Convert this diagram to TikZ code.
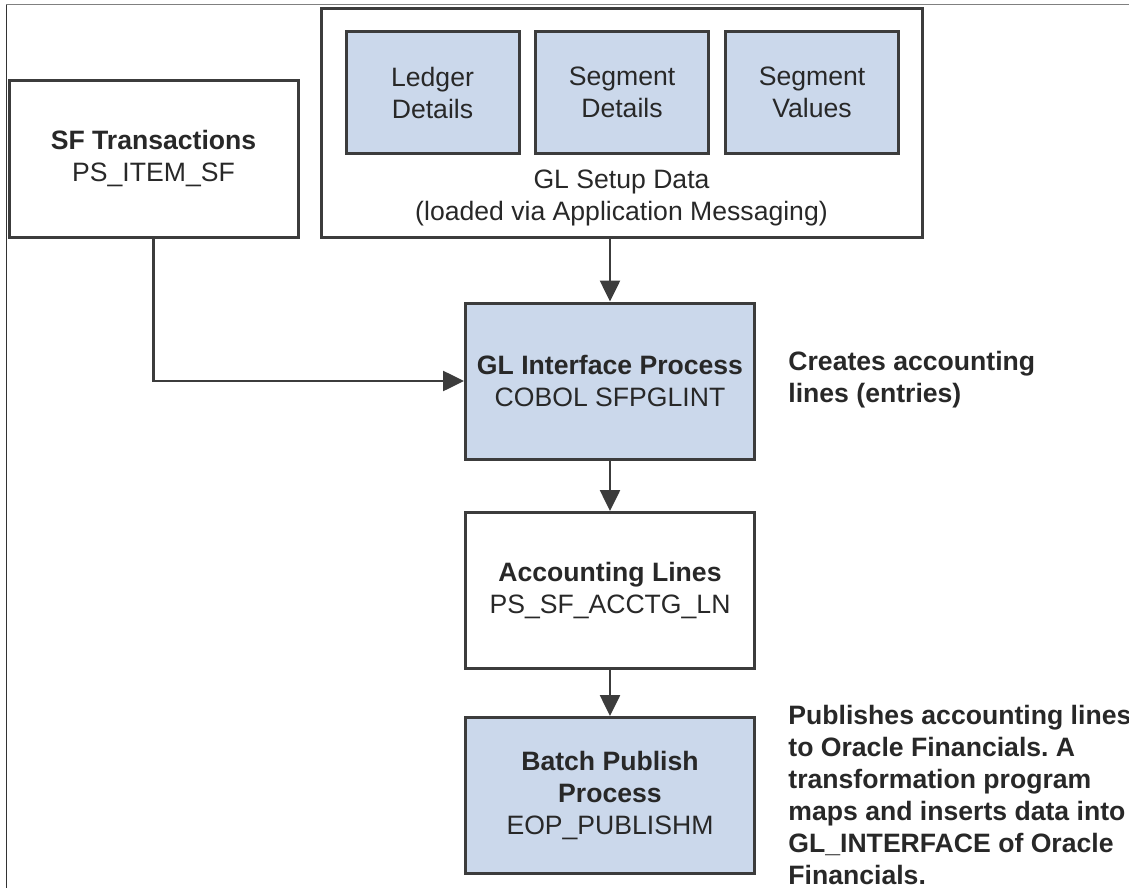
\documentclass[tikz,border=0pt]{standalone}
\usepackage{fontspec}
\setmainfont{Liberation Sans}
\usepackage{tikz}
\usetikzlibrary{positioning,arrows.meta}
\definecolor{boxblue}{RGB}{203,216,235}
\definecolor{linegray}{RGB}{60,60,60}
\definecolor{textgray}{RGB}{40,40,40}
\tikzset{
every node/.style={font=\fontsize{13.3}{16}\selectfont, text=textgray, inner sep=0pt}, % Arial-like text everywhere
tablebox/.style={draw=linegray, line width=1.5pt, minimum width=144.5pt, minimum height=78pt, align=center},
procbox/.style={tablebox, fill=boxblue},
setupbox/.style={draw=linegray, line width=1.5pt, fill=boxblue, minimum width=86.5pt, minimum height=60.5pt, align=center},
notetext/.style={anchor=west, align=left, font=\fontsize{13.3}{16}\selectfont\bfseries},
flowline/.style={draw=linegray, line width=1.3pt, -{Triangle[length=10.5pt,width=10pt]}},
}
\frenchspacing

\begin{document}
\begin{tikzpicture}[x=1pt,y=1pt,on grid]
    \useasboundingbox (0,0) rectangle (564.5,-444);
    \draw[gray, line width=0.5pt] (564.5,-2.5) -- (3.15,-2.5);
    \draw[black!80, line width=0.5pt] (3.15,-2.5) -- (3.15,-444);
    \node[tablebox] (sf) at (76.75,-79.5) {\textbf{SF Transactions}\\PS\_ITEM\_SF};
    \node[draw=linegray, line width=1.5pt, minimum width=300.5pt, minimum height=114pt] (glsetup) at (310.75,-61.5) {};
    \node[setupbox] (ledger) at (216.25,-46.25) {Ledger\\Details};
    \node[setupbox] (segdet) [right=94.75pt of ledger] {Segment\\Details};
    \node[setupbox] (segval) [right=95pt of segdet] {Segment\\Values};
    \node[align=center] (setuptext) at (310.75,-99) {GL Setup Data\\(loaded via Application Messaging)};
    \node[procbox] (glint) at (305,-190.5) {\textbf{GL Interface Process}\\COBOL SFPGLINT};
    \node[tablebox] (acctg) [below=104.75pt of glint] {\textbf{Accounting Lines}\\PS\_SF\_ACCTG\_LN};
    \node[procbox] (publish) [below=102.5pt of acctg] {\textbf{Batch Publish}\\\textbf{Process}\\EOP\_PUBLISHM};
    \node[notetext] (creates) at (394,-190) {Creates accounting\\lines (entries)};
    \node[notetext] (publishes) at (394,-397.25) {Publishes accounting lines\\to Oracle Financials. A\\transformation program\\maps and inserts data into\\GL\_INTERFACE of Oracle\\Financials.};
    \draw[flowline] (glsetup.south -| glint.north) -- (glint.north);
    \draw[flowline] (sf.south) |- (glint.west);
    \draw[flowline] (glint) -- (acctg);
    \draw[flowline] (acctg) -- (publish);
\end{tikzpicture}
\end{document}
